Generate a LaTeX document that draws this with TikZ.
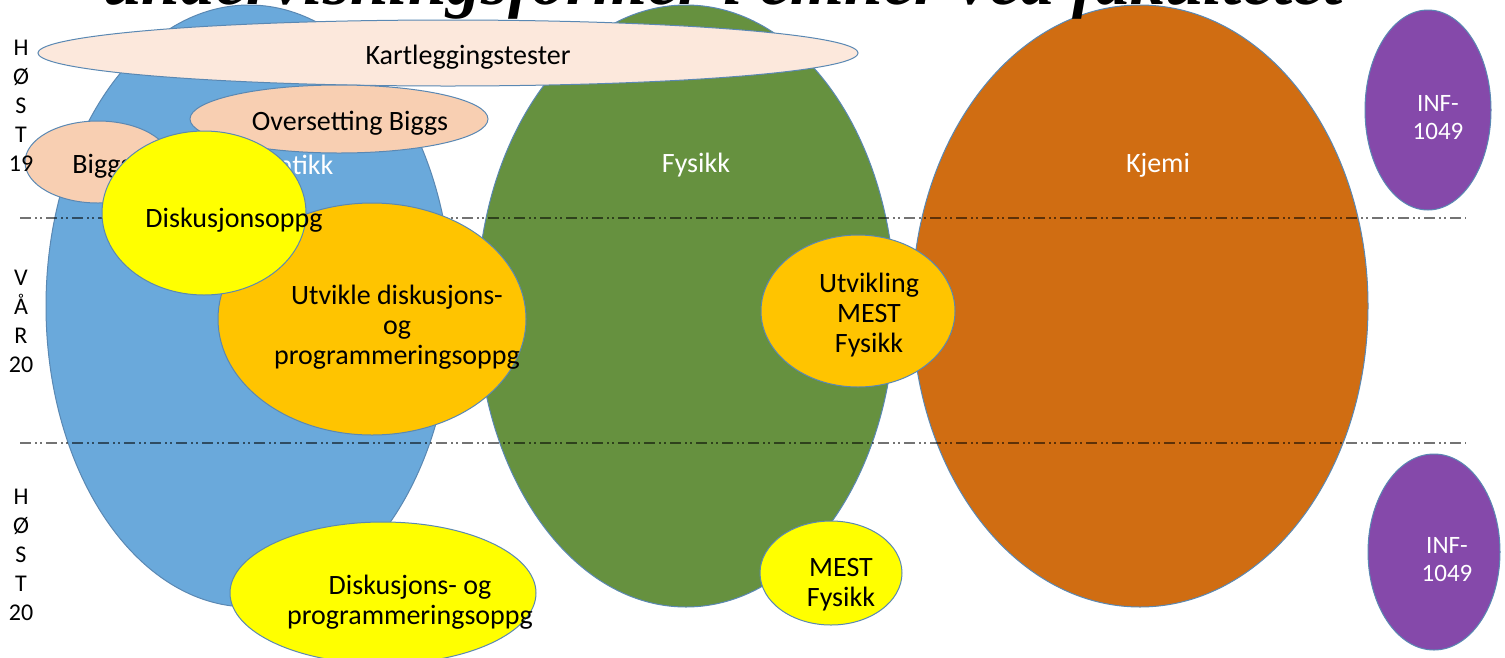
\documentclass[tikz,border=0pt]{standalone}
\usepackage{fontspec}
\setmainfont{Carlito}
\newfontfamily\titlefont{Liberation Serif}
\usetikzlibrary{shapes.geometric}
\definecolor{cBlue}{HTML}{6AA9DB}
\definecolor{cGreen}{HTML}{66913F}
\definecolor{cOrange}{HTML}{D06D12}
\definecolor{cPurple}{HTML}{8549AA}
\definecolor{cYellow}{HTML}{FFFF00}
\definecolor{cGold}{HTML}{FFC400}
\definecolor{cPale}{HTML}{FCE8DC}
\definecolor{cPeach}{HTML}{F8CFB2}
\definecolor{cEdge}{HTML}{5A88B3}
\begin{document}
\begin{tikzpicture}[x=1pt,y=-1pt,
  blob/.style={ellipse, draw=cEdge, line width=1pt, inner sep=0pt, outer sep=0pt},
  lbl/.style={font=\fontsize{28}{30}\selectfont, align=center, inner sep=0pt, text=black},
  wlbl/.style={lbl, text=white},
  inflbl/.style={font=\fontsize{25}{28}\selectfont, align=center, inner sep=0pt, text=white},
  side/.style={font=\fontsize{24}{29}\selectfont, align=center, inner sep=0pt},
  sepline/.style={line width=2.6pt, black, opacity=0.55,
    dash pattern=on 11pt off 4pt on 2pt off 3pt on 2pt off 4pt}]
\clip (0,0) rectangle (1505,657);
\fill[white] (0,0) rectangle (1505,657);

% big subject ellipses
\node[blob, fill=cBlue, minimum width=406pt, minimum height=602pt] (mat) at (249,306) {};
\node[wlbl] (matT) at (265,165) {Matematikk};
\node[blob, fill=cGreen, minimum width=418pt, minimum height=602pt] (fys) at (686,306) {};
\node[wlbl] (fysT) at (696,165) {Fysikk};
\node[blob, fill=cOrange, minimum width=456pt, minimum height=602pt] (kje) at (1140,306) {};
\node[wlbl] (kjeT) at (1158,165) {Kjemi};
\node[blob, fill=cPurple, minimum width=126pt, minimum height=200pt] (inf1) at (1428,110) {};
\node[inflbl] (inf1T) at (1438,118) {INF-\\1049};
\node[blob, fill=cPurple, minimum width=132pt, minimum height=196pt] (inf2) at (1434,552) {};
\node[inflbl] (inf2T) at (1447,560) {INF-\\1049};

% term separators
\coordinate (s1a) at (20,218);
\coordinate (s1b) at (1466,218);
\coordinate (s2a) at (20,443);
\coordinate (s2b) at (1466,443);
\draw[sepline] (s1a) -- (s1b);
\draw[sepline] (s2a) -- (s2b);

% activities
\node[blob, fill=cPale, minimum width=820pt, minimum height=66pt] (kart) at (448,53) {};
\node[lbl] (kartT) at (468,57) {Kartleggingstester};
\node[blob, fill=cPeach, minimum width=298pt, minimum height=68pt] (over) at (339,119) {};
\node[lbl] (overT) at (350,123) {Oversetting Biggs};
\node[blob, fill=cPeach, minimum width=146pt, minimum height=82pt] (biggs) at (98,162) {};
\node[lbl] (biggsT) at (102,166) {Biggs};
\node[blob, fill=cGold, minimum width=308pt, minimum height=232pt] (utv) at (372,319) {};
\node[lbl] (utvT) at (397,327) {Utvikle diskusjons-\\og\\programmeringsoppg};
\node[blob, fill=cYellow, minimum width=204pt, minimum height=164pt] (disk) at (204,213) {};
\node[lbl] (diskT) at (234,220) {Diskusjonsoppg};
\node[blob, fill=cGold, minimum width=194pt, minimum height=152pt] (umest) at (858,311) {};
\node[lbl] (umestT) at (869,315) {Utvikling\\MEST\\Fysikk};
\node[blob, fill=cYellow, minimum width=306pt, minimum height=142pt] (disk2) at (383,593) {};
\node[lbl] (disk2T) at (410,602) {Diskusjons- og\\programmeringsoppg};
\node[blob, fill=cYellow, minimum width=142pt, minimum height=104pt] (mest) at (831,573) {};
\node[lbl] (mestT) at (841,585) {MEST\\Fysikk};

% term labels
\node[side] (t1) at (21,106) {H\\Ø\\S\\T\\19};
\node[side] (t2) at (21,321) {V\\Å\\R\\20};
\node[side] (t3) at (21,555) {H\\Ø\\S\\T\\20};

% cut-off title
\node[anchor=base west, inner sep=0pt,
  font=\titlefont\bfseries\itshape\fontsize{69.5}{70}\selectfont] (title) at (103,4)
  {undervisningsformer i emner ved fakultetet};
\end{tikzpicture}
\end{document}
